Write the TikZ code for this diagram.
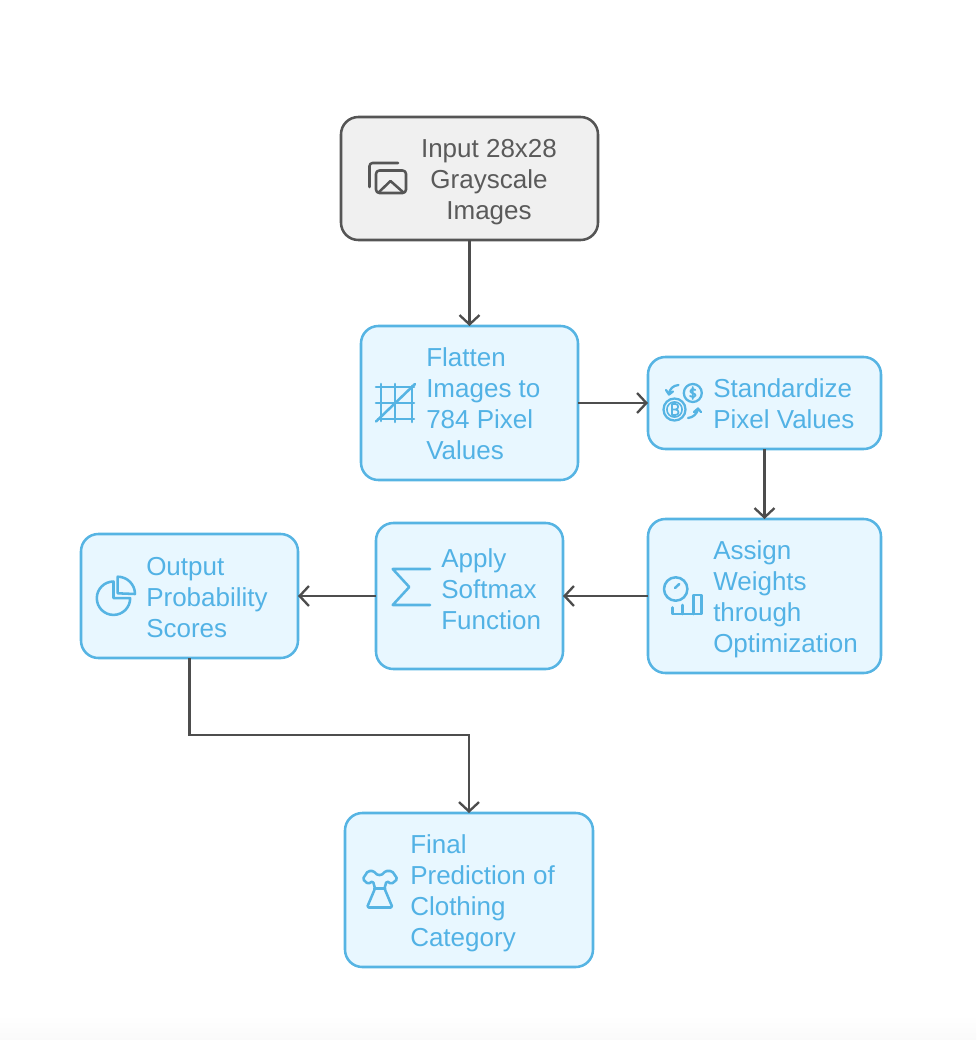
\documentclass[tikz,border=0pt]{standalone}
\usepackage{fontspec}
\setmainfont{Liberation Sans}
\usetikzlibrary{arrows.meta,calc}
\definecolor{blueline}{HTML}{56B4E3}
\definecolor{bluefill}{HTML}{E8F7FF}
\definecolor{greyline}{HTML}{555555}
\definecolor{greyfill}{HTML}{F0F0F0}
\definecolor{bluetext}{HTML}{52B2E5}
\definecolor{greytext}{HTML}{5A5A5A}
\definecolor{conncol}{HTML}{4D4D4D}
\tikzset{
  box/.style={draw=blueline,fill=bluefill,line width=1.9pt,rounded corners=13pt,inner sep=0pt,outer sep=0pt},
  greybox/.style={box,draw=greyline,fill=greyfill},
  label/.style={inner sep=0pt,align=left,text=bluetext,font=\fontsize{19.5}{23.25}\selectfont},
  greylabel/.style={label,align=center,text=greytext},
  conn/.style={draw=conncol,line width=1.75pt,-{Straight Barb[length=7pt,width=15pt,line width=1.75pt]}},
  icon/.style={draw=blueline,line width=1.9pt,line cap=round,line join=round},
  greyicon/.style={icon,draw=greyline}
}
\newcommand{\boxat}[7][box]{\node[#1,minimum width=#6*0.75pt-#4*0.75pt,minimum height=#7*0.75pt-#5*0.75pt,anchor=north west] (#2) at (#4,#5) {};}
\begin{document}
\begin{tikzpicture}[x=0.75pt,y=-0.75pt]
\useasboundingbox (0,0) rectangle (976,1040);
\shade[top color=white,bottom color=black!2,draw=none] (0,1015) rectangle (976,1040);
\boxat[greybox]{input}{}{341}{117}{598}{240}
\boxat{flatten}{}{361}{326}{578}{480}
\boxat{standard}{}{648}{357}{881}{449}
\boxat{assign}{}{648}{519}{881}{673}
\boxat{softmax}{}{376}{523}{563}{669}
\boxat{output}{}{81}{534}{298}{658}
\boxat{final}{}{345}{813}{593}{967}
\node[greylabel,anchor=center] (tinput) at (489,182) {Input 28x28\\Grayscale\\Images};
\node[label,anchor=west] (tflatten) at (426,404) {Flatten\\Images to\\784 Pixel\\Values};
\node[label,anchor=west] (tstandard) at (713,404) {Standardize\\Pixel Values};
\node[label,anchor=west] (tassign) at (713,599) {Assign\\Weights\\through\\Optimization};
\node[label,anchor=west] (tsoftmax) at (441,589) {Apply\\Softmax\\Function};
\node[label,anchor=west] (toutput) at (146,598) {Output\\Probability\\Scores};
\node[label,anchor=west] (tfinal) at (410,893) {Final\\Prediction of\\Clothing\\Category};
\draw[conn] (input.south) -- (flatten.north);
\draw[conn] (flatten.east) -- (standard.west);
\draw[conn] (standard.south) -- (assign.north);
\draw[conn] (assign.west) -- (softmax.east);
\draw[conn] (softmax.west) -- (output.east);
\draw[conn] (output.south) -- ++(0,77) -| (final.north);
% image icon
\draw[greyicon] (369.5,187) -- (369.5,166) arc[start angle=-180,end angle=-90,radius=3] -- (398,163);
\draw[greyicon,rounded corners=2.5pt] (376,170.5) rectangle (406,193);
\draw[greyicon] (378.5,192.5) -- (390.5,181) -- (403.5,192.5);
% flatten icon
\draw[icon] (381,384) -- (381,421) (395,384) -- (395,422) (412,386) -- (412,422);
\draw[icon] (376,387) -- (414,387) (376,403) -- (414,403) (378,419) -- (414,419);
\draw[icon] (376,421.5) -- (415,384);
% standardize icon
\draw[icon,line width=1.7pt] (692.8,393) circle[radius=9];
\draw[icon,line width=1.7pt] (674.5,409.5) circle[radius=11];
\draw[icon,line width=1.2pt] (674.5,409.5) circle[radius=7.6];
\draw[icon,line width=1.3pt] (695.3,390) .. controls (692.3,388) and (689.8,389.5) .. (690.3,391.5) .. controls (690.8,393.5) and (695.8,393) .. (695.6,395.5) .. controls (695.3,397.5) and (691.8,398) .. (690,396) (692.8,387) -- (692.8,399);
\draw[icon,line width=1.3pt] (672,404) -- (672,415) (672,404) -- (675.5,404) .. controls (679,404) and (679,409.5) .. (675.5,409.5) -- (672,409.5) (675.5,409.5) .. controls (679.5,409.5) and (679.5,415) .. (675.5,415) -- (672,415);
\draw[icon,line width=1.7pt] (678.5,385) .. controls (673,385.5) and (669.5,389) .. (669,394) (666,390) -- (669,394.5) -- (673,391.5);
\draw[icon,line width=1.7pt] (688,418) .. controls (693,417.5) and (697,414) .. (698,409) (694,412) -- (698,408.5) -- (701,412);
% assign icon
\draw[icon] (675.7,589) circle[radius=11.7];
\draw[icon] (675,588) -- (679.3,584);
\draw[icon] (672.7,607.5) -- (672.7,614) -- (701.7,614) -- (701.7,595) -- (693.3,595) -- (693.3,614);
\draw[icon] (682.7,605) -- (682.7,614);
% softmax icon
\draw[icon] (430,569) -- (392.7,569) -- (409.3,587) -- (392.7,605) -- (430,605);
% output icon
\draw[icon] (113.5,581.5) arc[start angle=-90,end angle=-360,radius=16.7] -- (113.5,598.2) -- cycle;
\draw[icon] (117.7,593.3) -- (117.7,576.7) arc[start angle=-90,end angle=0,radius=17.3] -- cycle;
% final icon
\draw[icon,rounded corners=1.2pt] (368,871) -- (362.7,879) -- (368,884) -- (373,881) -- (375,888.5) -- (367,907.5) -- (392.5,907.5) -- (384.5,888.5) -- (386.5,881) -- (391.5,884) -- (397.5,879) -- (392,871) -- (385,871) .. controls (382,876) and (377,876) .. (374,871) -- cycle;
\draw[icon] (375,888.5) -- (384.5,888.5);
\end{tikzpicture}
\end{document}
